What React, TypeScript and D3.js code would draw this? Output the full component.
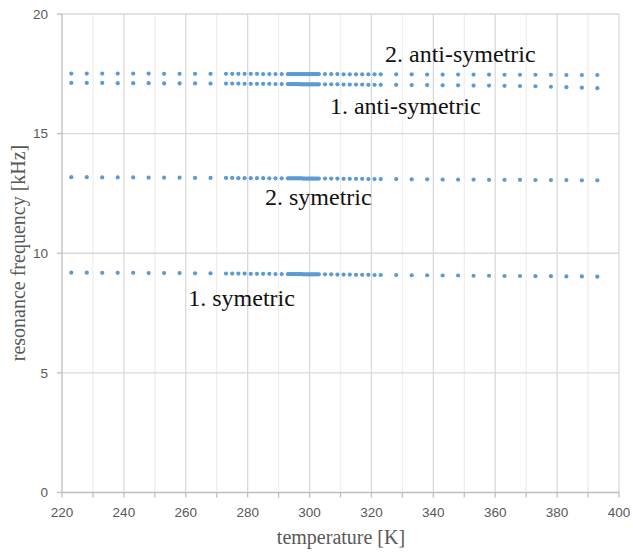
import React from "react";
import * as d3 from "d3";

const temperatures = [
  223, 228, 233, 238, 243, 248, 253, 258, 263, 268,
  273, 275, 277, 279, 281, 283, 285, 287, 289, 291,
  293, 293.5, 294, 294.5, 295, 295.5, 296, 296.5, 297, 297.5, 298, 298.5, 299, 299.5, 300, 300.5, 301, 301.5, 302, 302.5, 303,
  305, 307, 309, 311, 313, 315, 317, 319, 321, 323,
  328, 333, 338, 343, 348, 353, 358, 363, 368, 373, 378, 383, 388, 393,
];

const antiSym2 = [
  17.51, 17.51, 17.51, 17.51, 17.51, 17.51, 17.50, 17.50, 17.50, 17.50,
  17.50, 17.50, 17.50, 17.50, 17.50, 17.50, 17.49, 17.49, 17.49, 17.49,
  17.49, 17.49, 17.49, 17.49, 17.49, 17.49, 17.49, 17.49, 17.49, 17.49, 17.49, 17.49, 17.49, 17.49, 17.49, 17.49, 17.49, 17.49, 17.49, 17.49, 17.49,
  17.49, 17.49, 17.49, 17.48, 17.48, 17.48, 17.48, 17.48, 17.48, 17.48,
  17.48, 17.48, 17.47, 17.47, 17.47, 17.47, 17.47, 17.46, 17.46, 17.46, 17.46, 17.45, 17.45, 17.45,
];

const antiSym1 = [
  17.12, 17.12, 17.12, 17.11, 17.11, 17.11, 17.10, 17.10, 17.10, 17.09,
  17.09, 17.09, 17.09, 17.08, 17.08, 17.08, 17.08, 17.08, 17.07, 17.07,
  17.07, 17.07, 17.07, 17.07, 17.07, 17.07, 17.07, 17.07, 17.06, 17.06, 17.06, 17.06, 17.06, 17.06, 17.06, 17.06, 17.06, 17.06, 17.06, 17.06, 17.06,
  17.06, 17.06, 17.06, 17.05, 17.05, 17.05, 17.05, 17.04, 17.04, 17.04,
  17.04, 17.03, 17.03, 17.02, 17.02, 17.01, 17.01, 17.00, 16.99, 16.98, 16.96, 16.94, 16.92, 16.90,
];

const sym2 = [
  13.18, 13.18, 13.17, 13.17, 13.17, 13.16, 13.16, 13.16, 13.15, 13.15,
  13.15, 13.15, 13.14, 13.14, 13.14, 13.14, 13.14, 13.13, 13.13, 13.13,
  13.13, 13.13, 13.13, 13.13, 13.13, 13.13, 13.13, 13.13, 13.13, 13.13, 13.12, 13.12, 13.12, 13.12, 13.12, 13.12, 13.12, 13.12, 13.12, 13.12, 13.12,
  13.12, 13.12, 13.12, 13.11, 13.11, 13.11, 13.11, 13.10, 13.10, 13.10,
  13.10, 13.09, 13.09, 13.08, 13.08, 13.08, 13.07, 13.07, 13.07, 13.06, 13.06, 13.06, 13.05, 13.05,
];

const sym1 = [
  9.19, 9.19, 9.18, 9.18, 9.18, 9.17, 9.17, 9.17, 9.16, 9.16,
  9.15, 9.15, 9.15, 9.15, 9.14, 9.14, 9.14, 9.14, 9.13, 9.13,
  9.13, 9.13, 9.13, 9.13, 9.13, 9.13, 9.13, 9.13, 9.13, 9.13, 9.12, 9.12, 9.12, 9.12, 9.12, 9.12, 9.12, 9.12, 9.12, 9.12, 9.12,
  9.12, 9.12, 9.11, 9.11, 9.11, 9.10, 9.10, 9.10, 9.09, 9.09,
  9.09, 9.08, 9.08, 9.07, 9.07, 9.06, 9.06, 9.05, 9.05, 9.04, 9.04, 9.03, 9.03, 9.02,
];

const seriesList = [antiSym2, antiSym1, sym2, sym1];

const xTicks = [220, 240, 260, 280, 300, 320, 340, 360, 380, 400];
const xGrid = [230, 240, 250, 260, 270, 280, 290, 300, 310, 320, 330, 340, 350, 360, 370, 380, 390, 400];
const yTicks = [0, 5, 10, 15, 20];

const labels = [
  { text: "2. anti-symetric", t: 324.4, f: 17.98 },
  { text: "1. anti-symetric", t: 306.6, f: 15.84 },
  { text: "2. symetric", t: 285.6, f: 12.0 },
  { text: "1. symetric", t: 260.8, f: 7.78 },
];

export default function App() {
  const x = d3.scaleLinear().domain([220, 400]).range([62, 619]);
  const y = d3.scaleLinear().domain([0, 20]).range([492.5, 14]);
  const sans = "'Liberation Sans', Arial, sans-serif";
  const serif = "'Liberation Serif', 'Times New Roman', serif";
  const grey = "#595959";

  return (
    <svg
      width={633}
      height={556}
      style={{ position: "absolute", left: 0, top: 0, background: "#fff" }}
    >
      <rect width={633} height={556} fill="#fff" />
      {xGrid.map((t) => (
        <line
          key={"xg" + t}
          x1={x(t)}
          x2={x(t)}
          y1={y(20)}
          y2={y(0)}
          stroke={t % 20 === 0 ? "#d9d9d9" : "#eeeeee"}
          strokeWidth={1.3}
        />
      ))}
      {yTicks.filter((v) => v > 0).map((v) => (
        <line
          key={"yg" + v}
          x1={x(220)}
          x2={x(400)}
          y1={y(v)}
          y2={y(v)}
          stroke="#d9d9d9"
          strokeWidth={1.3}
        />
      ))}
      <line x1={x(220)} x2={x(220)} y1={y(20)} y2={y(0)} stroke="#bfbfbf" strokeWidth={1.3} />
      <line x1={x(220)} x2={x(400)} y1={y(0)} y2={y(0)} stroke="#bfbfbf" strokeWidth={1.3} />
      {yTicks.map((v) => (
        <g key={"yt" + v}>
          <line x1={x(220) - 5} x2={x(220)} y1={y(v)} y2={y(v)} stroke="#bfbfbf" strokeWidth={1.3} />
          <text
            x={48}
            y={y(v)}
            dy="0.35em"
            textAnchor="end"
            fontFamily={sans}
            fontSize={13.5}
            fill={grey}
          >
            {v}
          </text>
        </g>
      ))}
      {xGrid.concat([220]).map((t) => (
        <line key={"xt" + t} x1={x(t)} x2={x(t)} y1={y(0)} y2={y(0) + 5} stroke="#bfbfbf" strokeWidth={1.3} />
      ))}
      {xTicks.map((t) => (
        <text
          key={"xl" + t}
          x={x(t)}
          y={517}
          textAnchor="middle"
          fontFamily={sans}
          fontSize={13.5}
          fill={grey}
        >
          {t}
        </text>
      ))}
      <text x={341} y={544} textAnchor="middle" fontFamily={serif} fontSize={20} fill={grey}>
        temperature [K]
      </text>
      <text
        transform="translate(25,253) rotate(-90)"
        textAnchor="middle"
        fontFamily={serif}
        fontSize={20}
        fill={grey}
      >
        resonance frequency [kHz]
      </text>
      {seriesList.map((s, si) => (
        <g key={"s" + si}>
          {s.map((f, i) => (
            <circle key={i} cx={x(temperatures[i])} cy={y(f)} r={2.1} fill="#5b9bd5" />
          ))}
        </g>
      ))}
      {labels.map((l) => (
        <text key={l.text} x={x(l.t)} y={y(l.f)} fontFamily={serif} fontSize={24} fill="#111">
          {l.text}
        </text>
      ))}
    </svg>
  );
}
